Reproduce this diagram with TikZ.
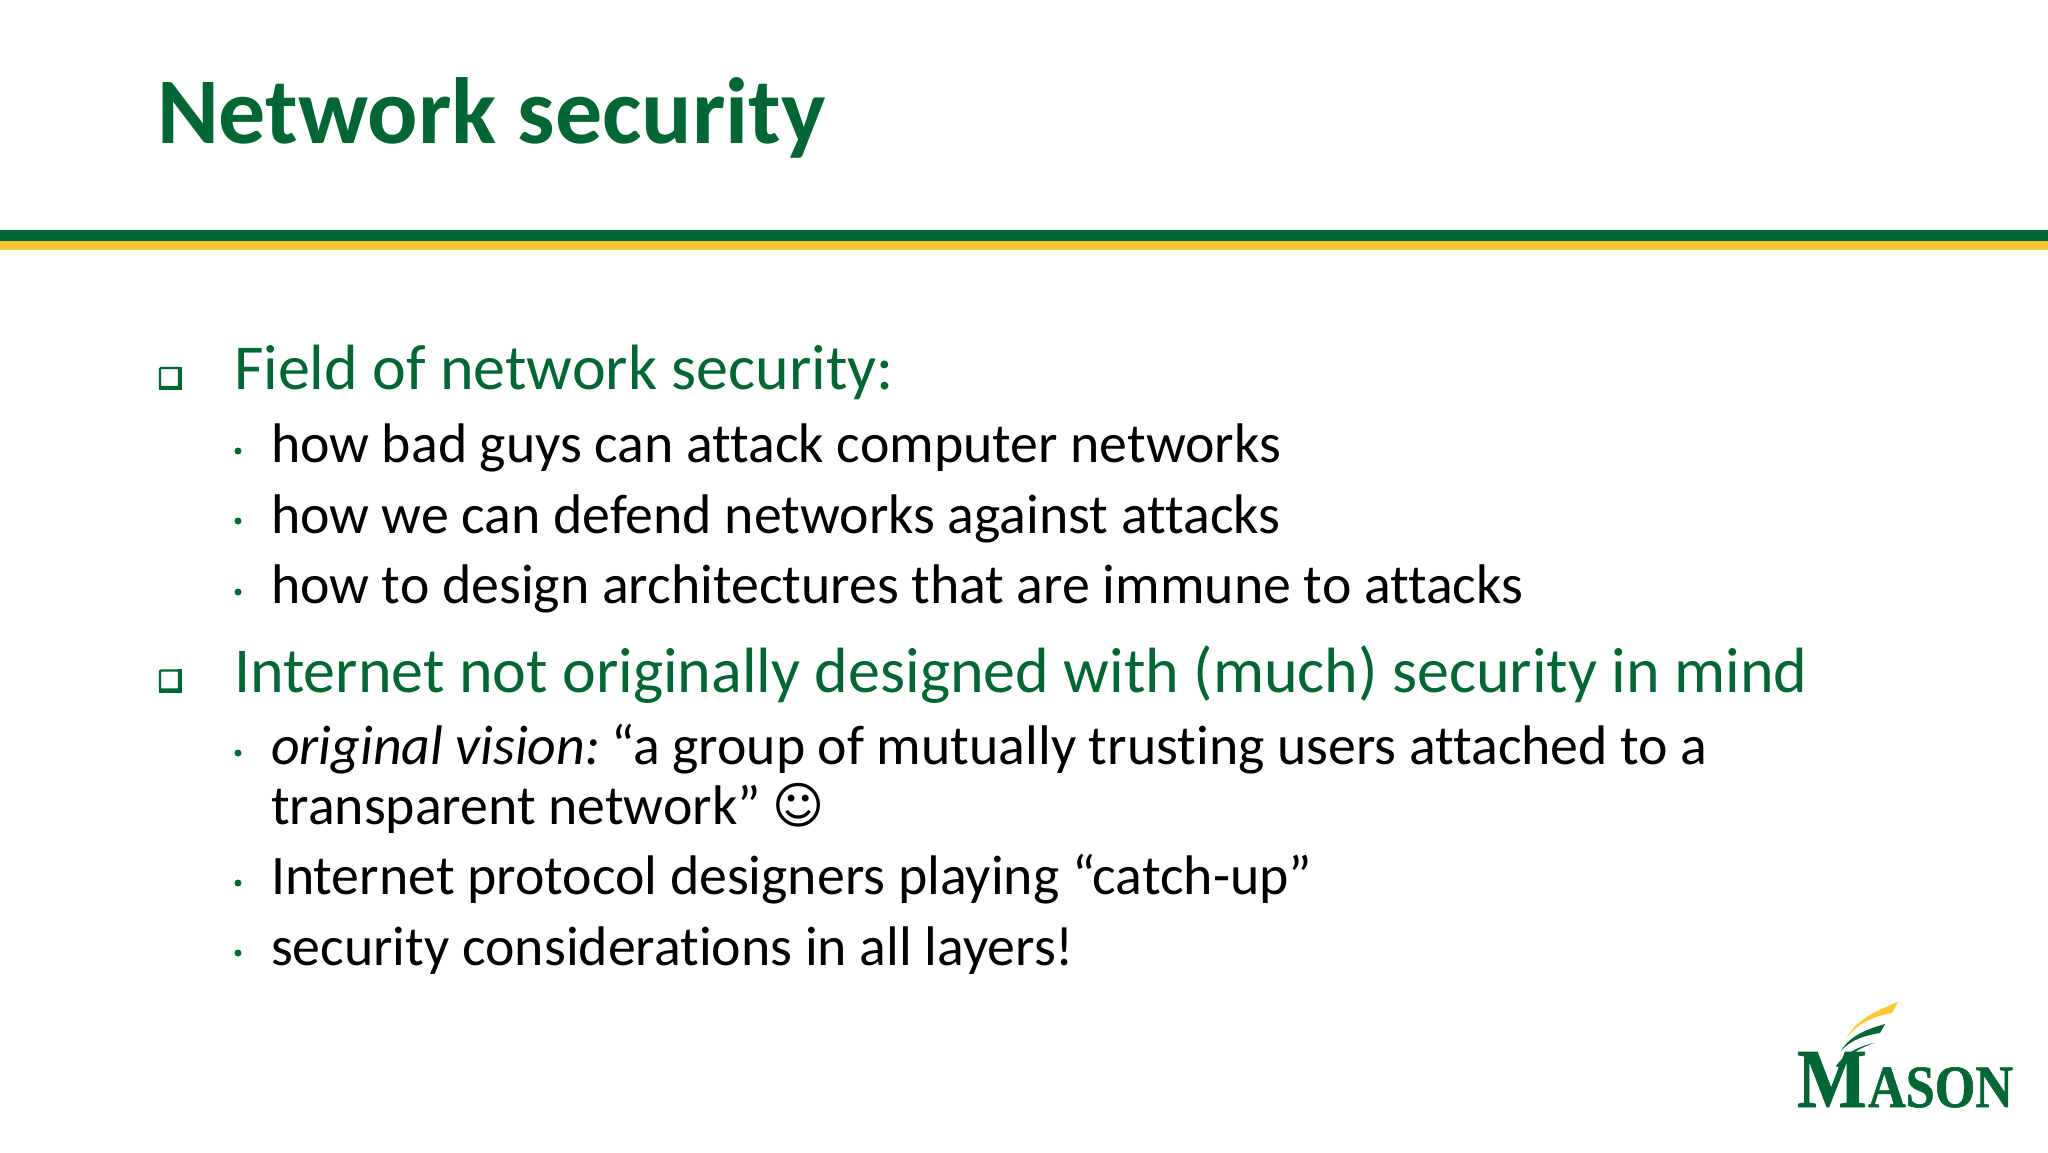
\documentclass[tikz,border=0pt]{standalone}
\usepackage{fontspec}
\usepackage{graphicx}
\setmainfont[Ligatures={NoCommon}]{Carlito}
\newfontfamily\logofont[BoldFeatures={FakeBold=1}]{Liberation Serif}
\newfontfamily\symfont{DejaVu Sans}
\definecolor{masongreen}{HTML}{006633}
\definecolor{masongold}{HTML}{FFC733}
\tikzset{
  txt/.style={anchor=base west,inner sep=0pt,outer sep=0pt},
  titletxt/.style={txt,text=masongreen,font=\fontsize{94}{94}\selectfont\bfseries},
  headtxt/.style={txt,text=masongreen,font=\fontsize{64}{64}\selectfont},
  bodytxt/.style={txt,text=black,font=\fontsize{55.8}{56}\selectfont},
  sqbullet/.style={draw=masongreen,line width=2.4pt,fill=white,minimum size=19pt,inner sep=0pt,rounded corners=1pt},
  dotbullet/.style={circle,fill=masongreen,minimum size=7pt,inner sep=0pt},
  logotxt/.style={txt,text=masongreen,font=\logofont\bfseries},
}
\begin{document}
\begin{tikzpicture}[x=1pt,y=-1pt]
\useasboundingbox (0,0) rectangle (2048,1152);
\fill[white] (0,0) rectangle (2048,1152);
\fill[masongreen] (0,230) rectangle (2048,241);
\fill[masongold] (0,241) rectangle (2048,250);
\node[titletxt] (title) at (157,143) {Network security};
\node[sqbullet] (b1) at (169.5,377.5) {};
\draw[masongreen,line width=4pt] (b1.south west) -- (b1.south east) -- (b1.north east);
\node[headtxt] (h1) at (234,389) {Field of network security:};
\node[dotbullet] (d1) at (238,451) {};
\node[bodytxt] (l1) at (271,462) {how bad guys can attack computer networks};
\node[dotbullet] (d2) at (238,521) {};
\node[bodytxt] (l2) at (271,533) {how we can defend networks against attacks};
\node[dotbullet] (d3) at (238,592) {};
\node[bodytxt] (l3) at (271,603) {how to design architectures that are immune to attacks};
\node[sqbullet] (b2) at (169.5,680) {};
\draw[masongreen,line width=4pt] (b2.south west) -- (b2.south east) -- (b2.north east);
\node[headtxt] (h2) at (234,692) {Internet not originally designed with (much) security in mind};
\node[dotbullet] (d4) at (238,753) {};
\node[bodytxt] (l4) at (271,764) {\textit{original vision:}\hspace{-6pt} “a group of mutually trusting users attached to a};
\node[bodytxt] (l5) at (271,824) {transparent network”};
\node[txt,font=\symfont\fontsize{50}{50}\selectfont] (smile) at (772,823) {☺};
\node[dotbullet] (d5) at (238,883) {};
\node[bodytxt] (l6) at (271,894) {Internet protocol designers playing “catch-up”};
\node[dotbullet] (d6) at (238,953) {};
\node[bodytxt] (l7) at (271,965) {security considerations in all layers!};
% logo
\node[logotxt,font=\logofont\bfseries\fontsize{84}{84}\selectfont] (logoM) at (1797,1107) {\scalebox{0.88}[1]{M}};
\node[logotxt,font=\logofont\bfseries\fontsize{60}{60}\selectfont] (logoR) at (1868,1107) {\scalebox{0.87}[1]{ASON}};
\fill[masongold] (1846,1039) .. controls (1856,1020) and (1875,1011) .. (1898,1002) -- (1892,1013) .. controls (1875,1016) and (1858,1022) .. (1846,1039) -- cycle;
\fill[masongreen] (1841,1051) .. controls (1850,1035) and (1868,1029) .. (1885,1024) -- (1880,1033) .. controls (1866,1035) and (1850,1040) .. (1841,1051) -- cycle;
\fill[masongreen] (1836,1066) .. controls (1846,1052) and (1860,1046) .. (1874,1043) .. controls (1860,1048) and (1848,1054) .. (1840,1068) -- cycle;
\end{tikzpicture}
\end{document}
